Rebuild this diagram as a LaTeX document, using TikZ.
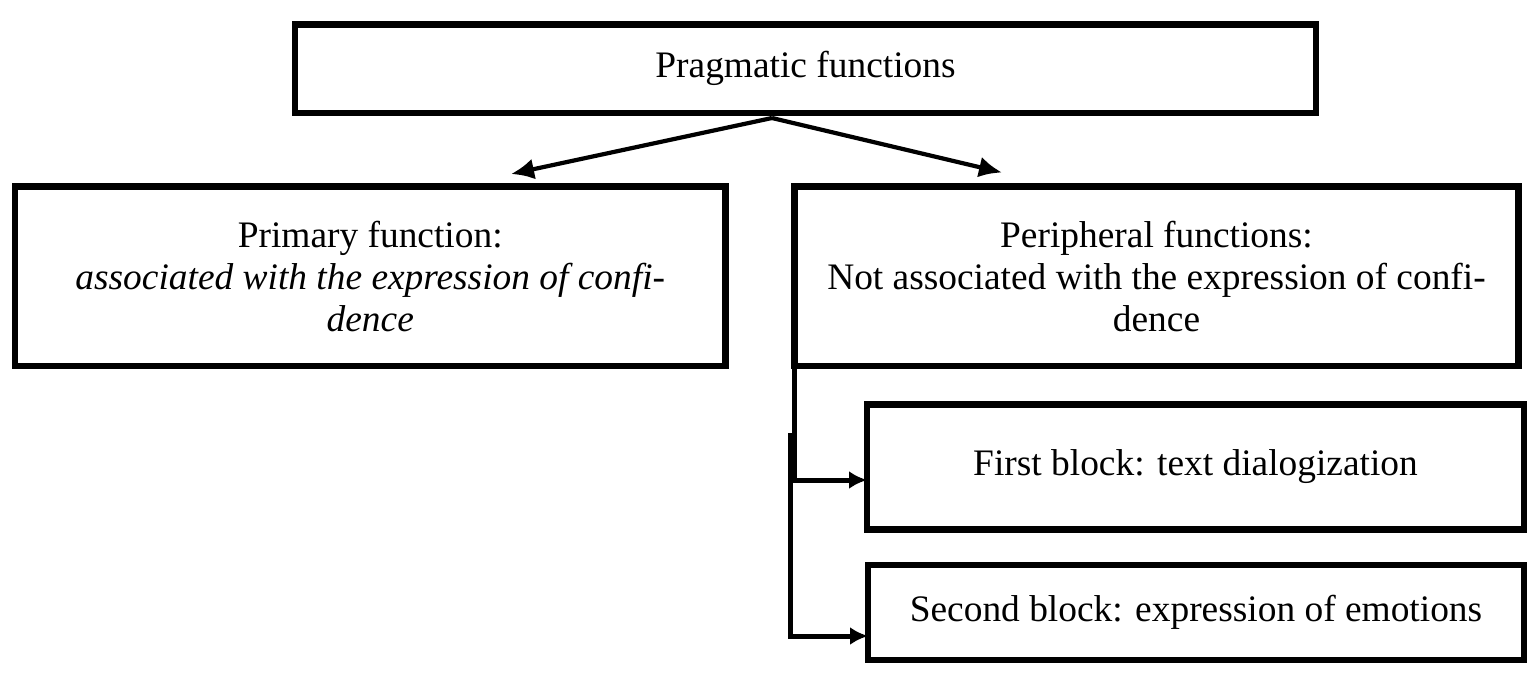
\documentclass[tikz,border=0pt]{standalone}
\usepackage{fontspec}
\setmainfont{Liberation Serif}
\usetikzlibrary{arrows.meta,positioning}

\begin{document}
\begin{tikzpicture}[
  x=0.5pt, y=-0.5pt,
  font=\fontsize{18.7}{21}\selectfont,
  box/.style={
    draw=black,
    line width=3.2pt,
    align=center,
    inner sep=0pt,
    outer sep=0pt
  },
  arrow/.style={-{Latex[length=11.5pt,width=10.5pt]},line width=2.1pt},
  branch/.style={-{Latex[length=9pt,width=9pt]},line width=2.5pt}
]
\useasboundingbox (0,0) rectangle (1539,676);

% 1. Top level
\node[box,minimum width=510.5pt,minimum height=44.25pt] (title) at (805.5,68.75) {Pragmatic functions};

% 2. Primary and peripheral functions
\node[box,minimum width=355.25pt,minimum height=89.75pt] (primary) at (370.25,276.25) {Primary function:\\\textit{associated with the expression of confi-}\\\textit{dence}};
\node[box,minimum width=362pt,minimum height=89.75pt] (peripheral) at (1156.5,276.25) {Peripheral functions:\\Not associated with the expression of confi-\\dence};

% 3. Blocks of peripheral functions
\node[box,minimum width=328.5pt,minimum height=62.5pt] (first) at (1195.5,467) {First block: text dialogization};
\node[box,minimum width=328pt,minimum height=47.5pt] (second) at (1196,612.5) {Second block: expression of emotions};

% Connections
\coordinate (fork) at ([xshift=-16.75pt,yshift=-2.5pt]title.south);
\draw[arrow] (fork) -- ([xshift=70.4pt,yshift=6.25pt]primary.north);
\draw[arrow] (fork) -- ([xshift=-77.25pt,yshift=7pt]peripheral.north);

\coordinate (split) at ([xshift=-2.25pt,yshift=-33.5pt]peripheral.south west);
\draw[branch] (peripheral.south west) |- ([yshift=-6.5pt]first.west);
\draw[branch] (split) |- ([yshift=-11.75pt]second.west);

\end{tikzpicture}
\end{document}
